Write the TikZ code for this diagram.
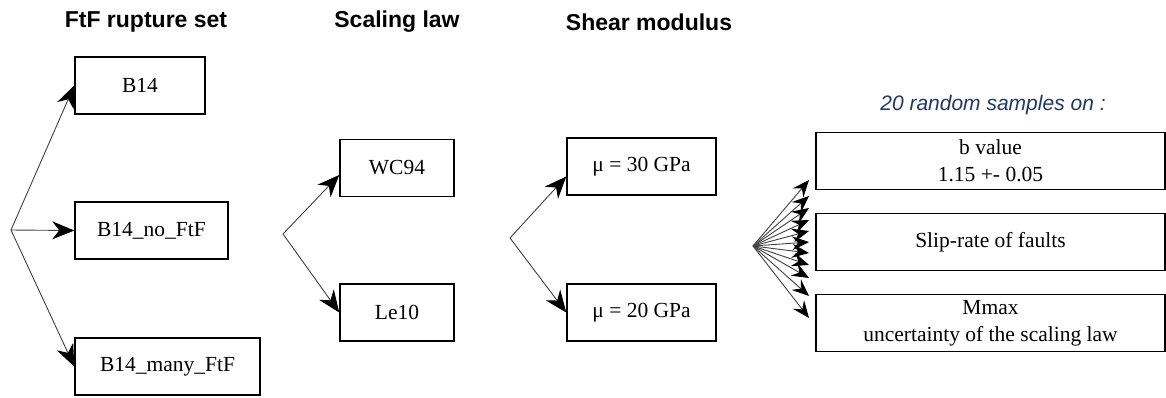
\documentclass[tikz,border=0pt]{standalone}
\usepackage{fontspec}
\setmainfont{Liberation Serif}
\setsansfont{Liberation Sans}
\usetikzlibrary{arrows.meta,positioning,calc}
\definecolor{sampleblue}{RGB}{31,56,100}

\begin{document}
\begin{tikzpicture}[x=1pt, y=-1pt,
		box/.style={draw, line width=1.5pt, inner sep=0pt, minimum height=57pt, align=center,
			font=\fontsize{21.5}{27}\selectfont},
		link/.style={draw=black!75, line width=0.9pt,
			-{Stealth[length=22pt, width=18pt, inset=7pt, black]}},
		fanlink/.style={link, -{Stealth[length=17pt, width=14pt, inset=6pt, black]}},
		title/.style={font=\sffamily\bfseries\fontsize{23}{27}\selectfont},
		note/.style={font=\sffamily\itshape\fontsize{21}{25}\selectfont, text=sampleblue}]
				\useasboundingbox (0,0) rectangle (1166,397);

				% Column titles
				\node[title] (t1) at (146, 22) {FtF rupture set};
				\node[title] (t2) at (397, 22) {Scaling law};
				\node[title] (t3) at (649, 22) {Shear modulus};
				\node[note] (t4) at (993, 105) {20 random samples on :};

				% FtF rupture sets
				\node[box, minimum width=130pt] (b14) at (140, 85.5) {B14};
				\node[box, minimum width=153pt] (b14nf) at (151.5, 230.5) {B14\_no\_FtF};
				\node[box, minimum width=185pt] (b14mf) at (167.5, 366.5) {B14\_many\_FtF};

				% Scaling laws
				\node[box, minimum width=114pt] (wc94) at (397, 168) {WC94};
				\node[box, minimum width=114pt] (le10) at (397, 312.5) {Le10};

				% Shear modulus
				\node[box, minimum width=149pt] (mu30) at (641.5, 166.5) {μ = 30 GPa};
				\node[box, minimum width=149pt] (mu20) at (641.5, 312.5) {μ = 20 GPa};

				% Sampled parameters
				\node[box, minimum width=349pt] (bval) at (990.5, 161) {b value\\1.15 +- 0.05};
				\node[box, minimum width=349pt] (slip) at (990.5, 242) {Slip-rate of faults};
				\node[box, minimum width=349pt] (mmax) at (990.5, 323) {Mmax\\uncertainty of the scaling law};

				% Branching points
				\coordinate (f1) at (11, 230);
				\coordinate (f2) at (283, 234);
				\coordinate (f3) at (510, 238);
				\coordinate (f4) at (753, 246);

				% Branches
				\draw[link] (f1) -- (b14.west);
				\draw[link] (f1) -- (b14nf.west);
				\draw[link] (f1) -- (b14mf.west);
				\draw[link] (f2) -- ([yshift=-7pt]wc94.west);
				\draw[link] (f2) -- (le10.west);
				\draw[link] (f3) -- ([yshift=-10pt]mu30.west);
				\draw[link] (f3) -- (mu20.west);

				% Fan of random samples
				\foreach \ty [count=\i] in {180,196,208,220,231,242,253,265,278,296,318} {
					\coordinate (s\i) at (809, \ty);
					\draw[fanlink] (f4) -- (s\i);
				}
			\end{tikzpicture}
\end{document}
